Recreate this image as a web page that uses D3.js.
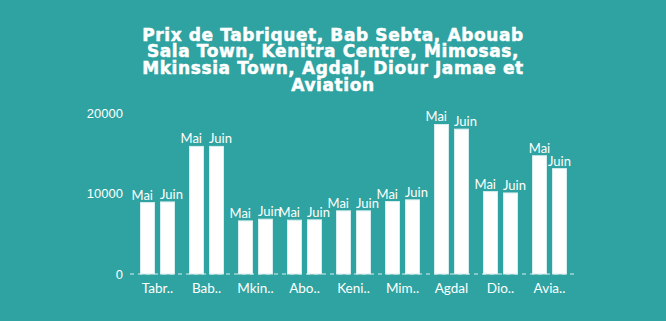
<!DOCTYPE html>
<html><head><meta charset="utf-8">
<script src="https://cdn.jsdelivr.net/npm/d3@7"></script>
<style>
html,body{margin:0;padding:0;background:#2fa3a1;}
svg{display:block;}
</style></head>
<body>
<script>
const categories = ["Tabriquet","Bab Sebta","Mkinssia Town","Abouab Sala Town","Kenitra Centre","Mimosas","Agdal","Diour Jamae","Aviation"];
const shortLabels = ["Tabr..","Bab..","Mkin..","Abo..","Keni..","Mim..","Agdal","Dio..","Avia.."];
const seriesNames = ["Mai","Juin"];
const mai  = [8900, 15900, 6620, 6710, 7870, 9030, 18630, 10270, 14740];
const juin = [8980, 15900, 6830, 6750, 7870, 9240, 18050, 10100, 13130];
const yTicks = [0, 10000, 20000];
const titleLines = ["Prix de Tabriquet, Bab Sebta, Abouab","Sala Town, Kenitra Centre, Mimosas,","Mkinssia Town, Agdal, Diour Jamae et","Aviation"];

const W = 666, H = 321;
const svg = d3.select("body").append("svg").attr("width", W).attr("height", H);
svg.append("rect").attr("width", W).attr("height", H).attr("fill", "#2fa3a1");

const x0 = d3.scaleBand().domain(categories).range([133, 574]).paddingInner(0).paddingOuter(0);
const x1 = d3.scaleBand().domain(seriesNames).range([0, x0.bandwidth()]).paddingInner(0.3).paddingOuter(0.375);
const y = d3.scaleLinear().domain([0, 20000]).range([274, 113.5]);

// title
const t = svg.append("text").attr("text-anchor", "middle")
  .attr("font-family", "'DejaVu Sans', sans-serif").attr("font-weight", "bold")
  .attr("font-size", 17).attr("letter-spacing", 0.6)
  .attr("fill", "#fff").attr("stroke", "#fff").attr("stroke-width", 0.5);
titleLines.forEach((l, i) => t.append("tspan").attr("x", 333).attr("y", 40.5 + i * 16.7).text(l));

// y axis
const yAxis = svg.append("g").attr("transform", "translate(123,0)")
  .call(d3.axisLeft(y).tickValues(yTicks).tickSize(0).tickPadding(0).tickFormat(d3.format("d")));
yAxis.select(".domain").remove();
yAxis.selectAll("text").attr("fill", "#fff").attr("font-family", "'Liberation Sans', Arial, sans-serif").attr("font-size", 13);

// baseline dashed
svg.append("line").attr("x1", 130).attr("x2", 578).attr("y1", y(0)).attr("y2", y(0))
  .attr("stroke", "#9fd6d4").attr("stroke-width", 1.5).attr("stroke-dasharray", "4,4");

const data = categories.map((c, i) => ({c, vals: [{s: "Mai", v: mai[i], o: juin[i]}, {s: "Juin", v: juin[i], o: mai[i]}]}));
const g = svg.append("g").selectAll("g").data(data).join("g")
  .attr("transform", d => `translate(${x0(d.c)},0)`);
g.selectAll("rect").data(d => d.vals).join("rect")
  .attr("x", d => x1(d.s)).attr("width", x1.bandwidth())
  .attr("y", d => y(d.v)).attr("height", d => y(0) - y(d.v))
  .attr("fill", "#fff").attr("stroke", "#d6eeed").attr("stroke-width", 1);
// labels: pushed outward when both labels sit at similar heights
g.selectAll("text").data(d => d.vals).join("text")
  .each(function(d) {
    const close = Math.abs(y(d.v) - y(d.o)) < 12;
    const sel = d3.select(this);
    if (!close) {
      sel.attr("x", x1(d.s) + x1.bandwidth() / 2).attr("text-anchor", "middle");
    } else if (d.s === "Mai") {
      sel.attr("x", x1(d.s) + x1.bandwidth() - 1.5).attr("text-anchor", "end");
    } else {
      sel.attr("x", x1(d.s) - 0.5).attr("text-anchor", "start");
    }
  })
  .attr("y", d => y(d.v) - 3)
  .attr("fill", "#fff")
  .attr("font-family", "Lato, sans-serif").attr("font-size", 13)
  .text(d => d.s);

// x axis labels
const xAxis = svg.append("g").attr("transform", `translate(0,${y(0)})`)
  .call(d3.axisBottom(x0).tickSize(0).tickPadding(9).tickFormat((d, i) => shortLabels[i]));
xAxis.select(".domain").remove();
xAxis.selectAll("text").attr("fill", "#fff").attr("font-family", "Lato, sans-serif").attr("font-size", 13.5);
</script>
</body></html>
